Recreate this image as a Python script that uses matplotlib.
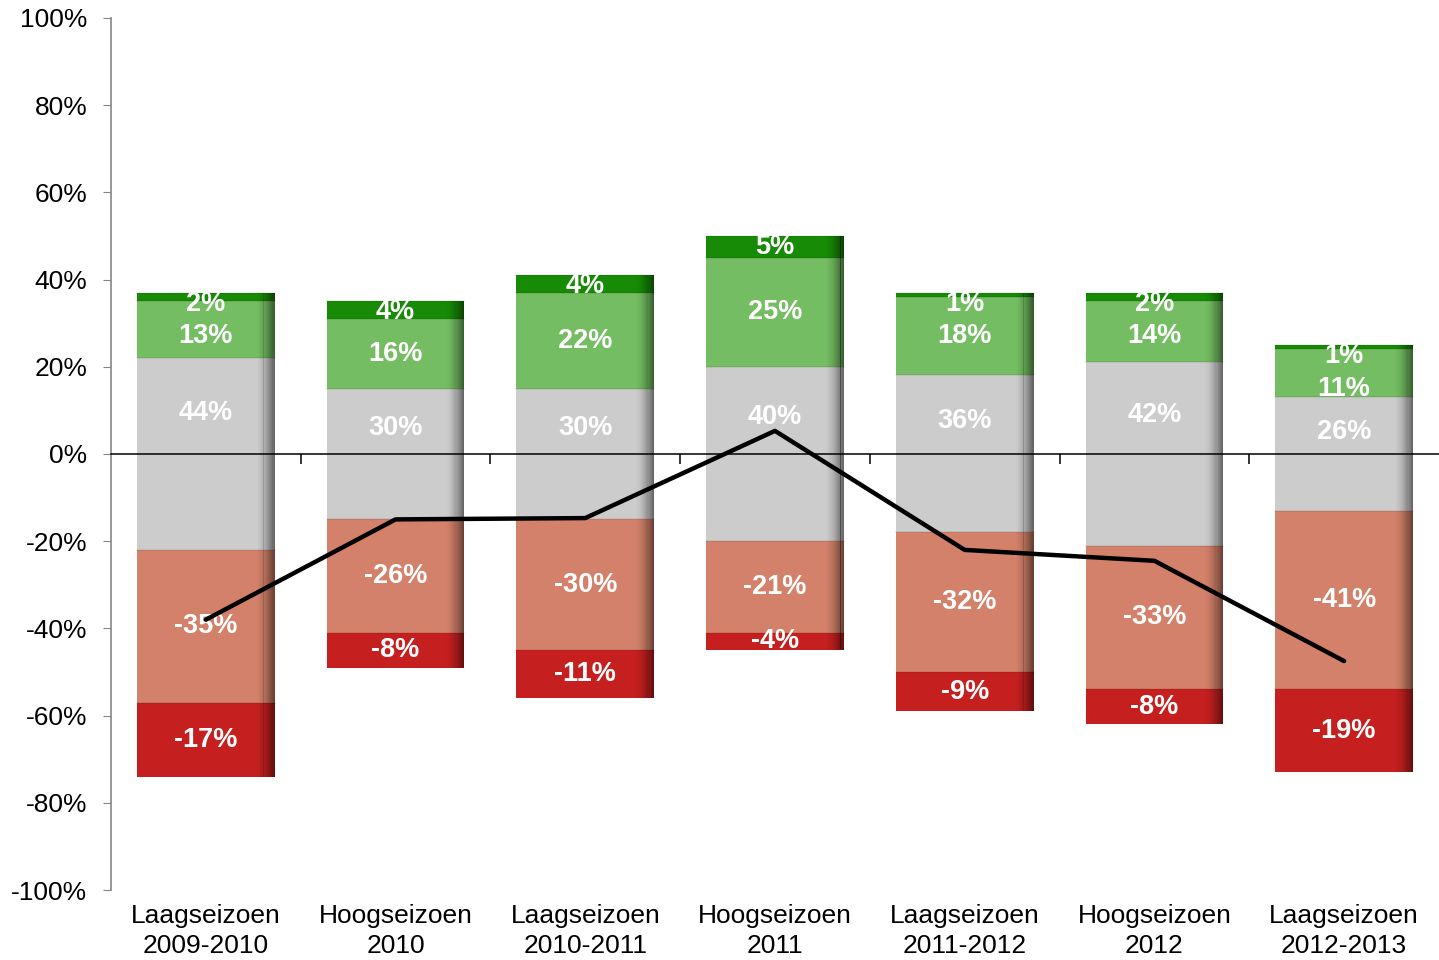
import numpy as np
import matplotlib.pyplot as plt
from matplotlib.patches import Rectangle
from matplotlib.ticker import FuncFormatter
import matplotlib.transforms as mtransforms

plt.rcParams['font.family'] = ['Liberation Sans', 'DejaVu Sans']

categories = ['Laagseizoen\n2009-2010', 'Hoogseizoen\n2010', 'Laagseizoen\n2010-2011',
              'Hoogseizoen\n2011', 'Laagseizoen\n2011-2012', 'Hoogseizoen\n2012',
              'Laagseizoen\n2012-2013']
much_better = [2, 4, 4, 5, 1, 2, 1]
better = [13, 16, 22, 25, 18, 14, 11]
same = [44, 30, 30, 40, 36, 42, 26]
worse = [35, 26, 30, 21, 32, 33, 41]
much_worse = [17, 8, 11, 4, 9, 8, 19]
balance = [-38, -15, -14.7, 5.3, -22, -24.5, -47.5]

c_much_better = '#178a06'
c_better = '#74bd62'
c_same = '#cccccc'
c_worse = '#d3816a'
c_much_worse = '#c5201f'

width = 0.726


def shaded_bar(ax, x, bottom, height, color):
    # flat fill plus a dark fade along the right edge
    ax.add_patch(Rectangle((x - width / 2, bottom), width, height, facecolor=color,
                           edgecolor='none', zorder=2))
    n = 16
    frac = 0.13
    strip = width * frac / n
    for i in range(n):
        a = 0.5 * ((i + 1) / n) ** 1.5
        ax.add_patch(Rectangle((x + width / 2 - width * frac + i * strip, bottom), strip * 1.02,
                               height, facecolor='black', alpha=a, edgecolor='none', zorder=2.1))
    edge_y = bottom + height if height > 0 else bottom
    ax.plot([x - width / 2, x + width / 2], [edge_y, edge_y], color='black', alpha=0.08,
            lw=1.2, zorder=2.2)


fig = plt.figure(figsize=(14.39, 9.6), dpi=100)
ax = fig.add_axes([0.0771, 0.0729, 0.9229, 0.9084])

label_kw = dict(ha='center', va='center', color='white', fontsize=19.5, fontweight='bold', zorder=3)

for i in range(len(categories)):
    half = same[i] / 2
    shaded_bar(ax, i, -half, same[i], c_same)
    shaded_bar(ax, i, half, better[i], c_better)
    shaded_bar(ax, i, half + better[i], much_better[i], c_much_better)
    shaded_bar(ax, i, -half, -worse[i], c_worse)
    shaded_bar(ax, i, -half - worse[i], -much_worse[i], c_much_worse)

    top = half + better[i] + much_better[i]
    y_dark = top - 2.5
    y_light = min(half + better[i] / 2, y_dark - 7.5)
    ax.text(i, half / 2 - 1.5, f'{same[i]}%', **label_kw)
    ax.text(i, y_light, f'{better[i]}%', **label_kw)
    ax.text(i, y_dark, f'{much_better[i]}%', **label_kw)
    ax.text(i, -half - worse[i] / 2, f'-{worse[i]}%', **label_kw)
    ax.text(i, -half - worse[i] - much_worse[i] / 2, f'-{much_worse[i]}%', **label_kw)

x = np.arange(len(categories))
ax.plot(x, balance, color='black', lw=3.2, zorder=4, solid_capstyle='round')

ax.set_xlim(-0.5, len(categories) - 0.5)
ax.set_ylim(-100, 100)
ax.set_yticks(np.arange(-100, 101, 20))
ax.yaxis.set_major_formatter(FuncFormatter(lambda v, _: f'{v:.0f}%'))
ax.tick_params(axis='y', direction='out', length=6, color='#868686', labelsize=19,
               pad=11, labelcolor='black')

ax.spines['left'].set_color('#868686')
ax.spines['left'].set_linewidth(1.2)
ax.spines['bottom'].set_position(('data', 0))
ax.spines['bottom'].set_color('black')
ax.spines['bottom'].set_linewidth(1.1)
ax.spines['bottom'].set_zorder(2.5)
ax.spines['right'].set_visible(False)
ax.spines['top'].set_visible(False)

ax.set_xticks(np.arange(0.5, len(categories) - 0.5, 1))
ax.tick_params(axis='x', direction='out', length=7, color='black', width=1.1, labelbottom=False)

trans = mtransforms.blended_transform_factory(ax.transData, ax.transAxes)
for i, name in enumerate(categories):
    ax.text(i, -0.016, name, transform=trans, ha='center', va='top', fontsize=19,
            linespacing=1.3, color='black')

ax.patch.set_visible(False)
fig.savefig('out.png', dpi=100)
